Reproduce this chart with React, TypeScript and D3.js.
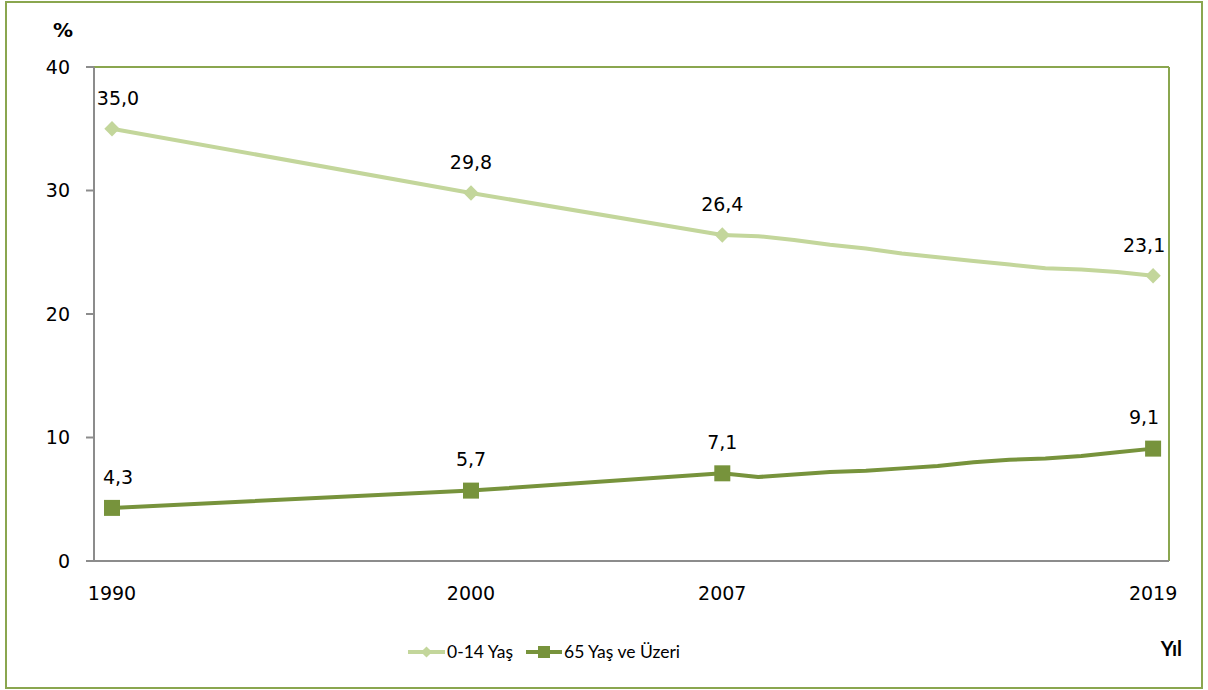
import React from "react";
import * as d3 from "d3";

const years = [1990, 2000, 2007, 2008, 2009, 2010, 2011, 2012, 2013, 2014, 2015, 2016, 2017, 2018, 2019];
const child = [35.0, 29.8, 26.4, 26.3, 26.0, 25.6, 25.3, 24.9, 24.6, 24.3, 24.0, 23.7, 23.6, 23.4, 23.1];
const elderly = [4.3, 5.7, 7.1, 6.8, 7.0, 7.2, 7.3, 7.5, 7.7, 8.0, 8.2, 8.3, 8.5, 8.8, 9.1];
const labeledYears = [1990, 2000, 2007, 2019];
const yTicks = [0, 10, 20, 30, 40];
const seriesNames = ["0-14 Yaş", "65 Yaş ve Üzeri"];

const W = 1208, H = 690;
const plot = { left: 94, right: 1169, top: 67, bottom: 561 };
const C1 = "#c3d69b";
const C2 = "#77933c";
const BORDER = "#8aa64f";
const AXIS = "#8c8c8c";
const NUM_FONT = "'DejaVu Sans', Verdana, sans-serif";
const LEG_FONT = "Lato, 'Open Sans', sans-serif";

export default function App() {
  const x = d3.scaleLinear()
    .domain([1990 - (112 - plot.left) / 35.9, 1990 + (plot.right - 112) / 35.9])
    .range([plot.left, plot.right]);
  const y = d3.scaleLinear().domain([0, 40]).range([plot.bottom, plot.top]);
  const line = d3.line<number>().x((_, i) => x(years[i])).y((d) => y(d));
  const fmt = (v: number) => v.toFixed(1).replace(".", ",");
  const lastIdx = years.length - 1;
  const labelDx = (i: number) => (i === 0 ? 6 : i === lastIdx ? -9 : 0);
  const diamond = d3.symbol().type(d3.symbolDiamond2).size(150)();
  const diamondSmall = d3.symbol().type(d3.symbolDiamond2).size(80)();

  const series = [
    { vals: child, color: C1, marker: "diamond" },
    { vals: elderly, color: C2, marker: "square" },
  ];

  const marker = (kind: string, color: string, cx: number, cy: number, key: string, small = false) =>
    kind === "diamond" ? (
      <path key={key} d={(small ? diamondSmall : diamond) || ""} transform={`translate(${cx},${cy})`} fill={color} />
    ) : (
      <rect
        key={key}
        x={cx - (small ? 6 : 8)}
        y={cy - (small ? 6 : 8)}
        width={small ? 12 : 16}
        height={small ? 12 : 16}
        fill={color}
      />
    );

  return (
    <svg width={W} height={H} style={{ position: "absolute", left: 0, top: 0, background: "#fff" }}>
      <rect x={6} y={2} width={1196} height={686} fill="#fff" stroke={BORDER} strokeWidth={2} />
      <line x1={plot.left} x2={plot.right} y1={plot.top} y2={plot.top} stroke={BORDER} strokeWidth={2} />
      <line x1={plot.right} x2={plot.right} y1={plot.top} y2={plot.bottom} stroke={BORDER} strokeWidth={2} />
      <line x1={plot.left} x2={plot.left} y1={plot.top} y2={plot.bottom + 1} stroke={AXIS} strokeWidth={2} />
      <line x1={plot.left} x2={plot.right} y1={plot.bottom} y2={plot.bottom} stroke={AXIS} strokeWidth={2} />
      {yTicks.map((t) => (
        <g key={t}>
          <line x1={plot.left - 8} x2={plot.left} y1={y(t)} y2={y(t)} stroke={AXIS} strokeWidth={2} />
          <text x={70} y={y(t)} dy="0.36em" textAnchor="end" fontFamily={NUM_FONT} fontSize={19} fill="#000">
            {t}
          </text>
        </g>
      ))}
      {labeledYears.map((yr) => (
        <text key={yr} x={x(yr)} y={593} dy="0.36em" textAnchor="middle" fontFamily={NUM_FONT} fontSize={19} fill="#000">
          {yr}
        </text>
      ))}
      <text x={63} y={30} dy="0.36em" textAnchor="middle" fontFamily={NUM_FONT} fontWeight="bold" fontSize={20} fill="#000">
        %
      </text>
      {series.map((s, si) => (
        <g key={si}>
          <path d={line(s.vals) || ""} fill="none" stroke={s.color} strokeWidth={4} strokeLinejoin="round" />
          {years.map((yr, i) =>
            labeledYears.includes(yr) ? (
              <g key={yr}>
                {marker(s.marker, s.color, x(yr), y(s.vals[i]), "m" + yr)}
                <text
                  x={x(yr) + labelDx(i)}
                  y={y(s.vals[i]) - 31}
                  dy="0.36em"
                  textAnchor="middle"
                  fontFamily={NUM_FONT}
                  fontSize={19}
                  fill="#000"
                >
                  {fmt(s.vals[i])}
                </text>
              </g>
            ) : null
          )}
        </g>
      ))}
      {series.map((s, si) => {
        const lx = si === 0 ? 408 : 526;
        const lw = si === 0 ? 37 : 36;
        return (
          <g key={"leg" + si}>
            <line x1={lx} x2={lx + lw} y1={652} y2={652} stroke={s.color} strokeWidth={4} />
            {marker(s.marker, s.color, lx + lw / 2, 652, "lm" + si, true)}
            <text x={lx + lw + 2} y={652} dy="0.36em" fontFamily={LEG_FONT} fontSize={17.5} fill="#000">
              {seriesNames[si]}
            </text>
          </g>
        );
      })}
      <text x={1182} y={649} dy="0.36em" textAnchor="end" fontFamily={LEG_FONT} fontWeight="bold" fontSize={20} fill="#000">
        Yıl
      </text>
    </svg>
  );
}
